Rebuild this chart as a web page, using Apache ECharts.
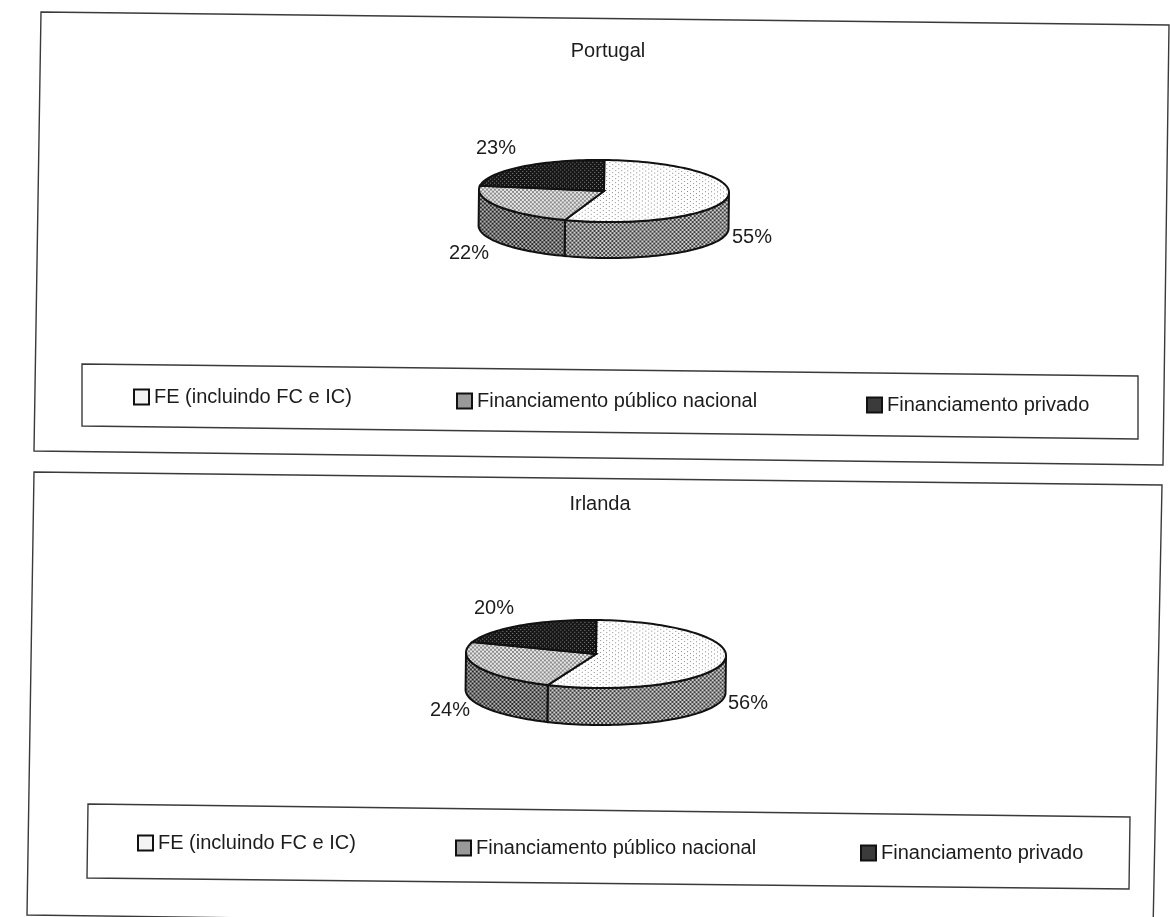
<!DOCTYPE html>
<html>
<head>
<meta charset="utf-8">
<title>Portugal / Irlanda</title>
<style>
  html, body { margin: 0; padding: 0; background: #fff; }
  #chart { width: 1170px; height: 917px; }
</style>
</head>
<body>
<div id="chart"></div>
<script src="https://cdn.jsdelivr.net/npm/echarts@6/dist/echarts.min.js"></script>
<script>
const categories = ['FE (incluindo FC e IC)', 'Financiamento público nacional', 'Financiamento privado']
const portugalValues = [55, 22, 23]
const irlandaValues = [56, 24, 20]
const chartTitles = ['Portugal', 'Irlanda']

const FONT = '"Liberation Sans", Arial, sans-serif'
const INK = '#1c1c1c'

// small dithered tiles, the scan shows halftone fills instead of flat colours
function tile(rows, dark, light) {
  const c = document.createElement('canvas')
  c.width = rows[0].length
  c.height = rows.length
  const ctx = c.getContext('2d')
  rows.forEach((row, y) => {
    for (let x = 0; x < row.length; x++) {
      ctx.fillStyle = row[x] === '1' ? dark : light
      ctx.fillRect(x, y, 1, 1)
    }
  })
  return { image: c, repeat: 'repeat' }
}
const CHECK = ['1100', '1100', '0011', '0011']
const topFills = [
  tile(['100000', '000000', '000100', '000000'], '#8a8a8a', '#ffffff'),
  tile(CHECK, '#8c8c8c', '#e8e8e8'),
  tile(['1101', '1111', '0111', '1111'], '#151515', '#8a8a8a')
]
const wallFills = [
  tile(CHECK, '#3c3c3c', '#d0d0d0'),
  tile(CHECK, '#262626', '#b4b4b4'),
  tile(CHECK, '#222222', '#666666')
]

const pies = [
  {
    values: portugalValues, cx: 604, cy: 191, rx: 125, ry: 31, depth: 36,
    labels: [[752, 237], [469, 253], [496, 148]]
  },
  {
    values: irlandaValues, cx: 596, cy: 654, rx: 130, ry: 34, depth: 37,
    labels: [[748, 703], [450, 710], [494, 608]]
  }
]
const TILT = -0.012

function ellipsePoint(pie, deg, dy) {
  const a = deg * Math.PI / 180
  return [pie.cx + pie.rx * Math.sin(a), pie.cy - pie.ry * Math.cos(a) + (dy || 0)]
}
function arc(pie, from, to, dy) {
  const pts = []
  const steps = Math.max(2, Math.ceil(Math.abs(to - from) / 2))
  for (let i = 0; i <= steps; i++) {
    pts.push(ellipsePoint(pie, from + (to - from) * i / steps, dy))
  }
  return pts
}

function sliceRenderer(pie, catIndex) {
  return function (params, api) {
    const total = pie.values.reduce((s, v) => s + v, 0)
    const value = api.value(0)
    const start = api.value(1) / total * 360
    const end = start + value / total * 360
    const children = []
    const wallFrom = Math.max(start, 90)
    const wallTo = Math.min(end, 270)
    if (wallTo > wallFrom) {
      const pts = arc(pie, wallFrom, wallTo, 0).concat(arc(pie, wallTo, wallFrom, pie.depth))
      children.push({
        type: 'polygon',
        shape: { points: pts },
        style: { fill: wallFills[catIndex], stroke: '#111', lineWidth: 2 }
      })
    }
    children.push({
      type: 'polygon',
      shape: { points: [[pie.cx, pie.cy]].concat(arc(pie, start, end, 0)) },
      style: { fill: topFills[catIndex], stroke: '#111', lineWidth: 2 }
    })
    const lab = pie.labels[catIndex]
    return {
      type: 'group',
      children: [
        { type: 'group', originX: pie.cx, originY: pie.cy, rotation: TILT, children: children },
        {
          type: 'text',
          style: {
            x: lab[0], y: lab[1], text: value + '%', fill: INK,
            font: '20px ' + FONT, align: 'center', verticalAlign: 'middle'
          }
        }
      ]
    }
  }
}

const series = []
pies.forEach(pie => {
  let running = 0
  categories.forEach((name, i) => {
    series.push({
      type: 'custom',
      name: name,
      coordinateSystem: 'none',
      silent: true,
      itemStyle: { color: '#888' },
      data: [[pie.values[i], running]],
      renderItem: sliceRenderer(pie, i)
    })
    running += pie.values[i]
  })
})

// one legend per entry, the items are not evenly spaced in the original
const legendSpots = [
  [133, 397], [456, 401], [866, 405],
  [137, 843], [455, 848], [860, 853]
]
const legendIconFills = [
  tile(['0'], '#000', '#f4f4f4'),
  tile(['10', '01'], '#666666', '#cccccc'),
  tile(['10', '01'], '#222222', '#555555')
]
const legends = legendSpots.map((spot, i) => ({
  left: spot[0],
  top: spot[1] - 10,
  padding: 0,
  icon: 'rect',
  itemWidth: 15,
  itemHeight: 15,
  selectedMode: false,
  textStyle: { fontSize: 20, fontFamily: FONT, color: INK },
  data: [{
    name: categories[i % 3],
    itemStyle: { color: legendIconFills[i % 3], borderColor: '#111', borderWidth: 2 }
  }]
}))

function frame(points) {
  return {
    type: 'polygon',
    silent: true,
    shape: { points: points },
    style: { fill: 'none', stroke: '#3a3a3a', lineWidth: 1.4 }
  }
}

const option = {
  backgroundColor: '#ffffff',
  animation: false,
  title: [
    { text: chartTitles[0], left: 608, top: 41, textAlign: 'center', padding: 0, textStyle: { fontSize: 20, fontWeight: 'normal', fontFamily: FONT, color: INK } },
    { text: chartTitles[1], left: 600, top: 494, textAlign: 'center', padding: 0, textStyle: { fontSize: 20, fontWeight: 'normal', fontFamily: FONT, color: INK } }
  ],
  legend: legends,
  graphic: [
    frame([[41, 12], [1169, 25], [1163, 465], [34, 451]]),
    frame([[34, 472], [1162, 485], [1153, 930], [27, 915]]),
    frame([[82, 364], [1138, 376], [1138, 439], [82, 426]]),
    frame([[88, 804], [1130, 817], [1129, 889], [87, 878]])
  ],
  series: series
}

const myChart = echarts.init(document.getElementById('chart'), null, { renderer: 'canvas' })
myChart.setOption(option)
</script>
</body>
</html>
